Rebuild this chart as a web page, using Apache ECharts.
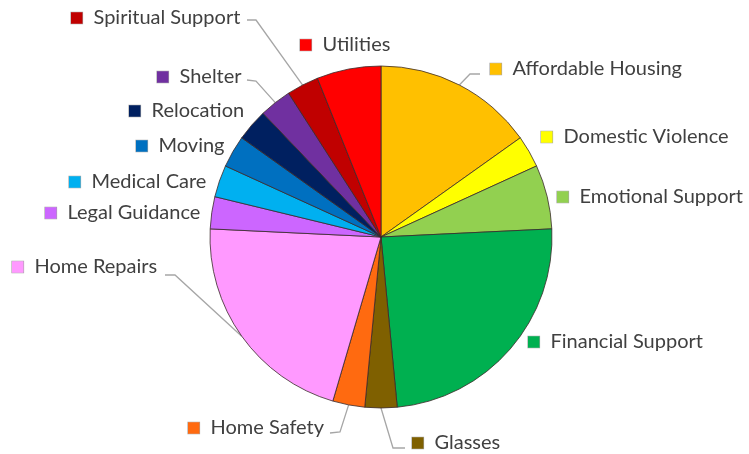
<!DOCTYPE html>
<html>
<head>
<meta charset="utf-8">
<script src="https://cdn.jsdelivr.net/npm/echarts@6/dist/echarts.min.js"></script>
<style>
html,body{margin:0;padding:0;background:#fff;}
#chart{width:749px;height:454px;}
</style>
</head>
<body>
<div id="chart"></div>
<script>
// ---- data ----
const categories = ['Affordable Housing','Domestic Violence','Emotional Support','Financial Support','Glasses','Home Safety','Home Repairs','Legal Guidance','Medical Care','Moving','Relocation','Shelter','Spiritual Support','Utilities'];
const values = [5,1,2,8,1,1,7,1,1,1,1,1,1,2];

// ---- styles ----
const colors = ['#FFC000','#FFFF00','#92D050','#00B050','#7F6000','#FF6A10','#FF99FF','#CC66FF','#00B0F0','#0070C0','#002060','#7030A0','#C00000','#FF0000'];

// label layout: marker left x, centre y; optional leader line knee & end
const labelLayoutCfg = [
  {x:490, y:69, knee:[470,74], end:[480,74]},
  {x:541, y:137},
  {x:557, y:197},
  {x:528, y:342},
  {x:412, y:443, knee:[393,448], end:[405,448]},
  {x:188, y:428, knee:[340,432], end:[330,433]},
  {x:12,  y:267, knee:[175,275], end:[165,275]},
  {x:45,  y:213},
  {x:69,  y:182},
  {x:136, y:146},
  {x:129, y:111},
  {x:157, y:77, knee:[256,81], end:[247,80]},
  {x:71,  y:18, knee:[256,20], end:[247,20]},
  {x:300, y:45}
];

const rich = { t: { fontFamily: 'Lato', fontSize: 20, color: '#404040', padding: [0,0,0,11] } };
colors.forEach((c, i) => {
  rich['m' + i] = { width: 11.5, height: 11.5, backgroundColor: c, borderColor: 'rgba(0,0,0,0.35)', borderWidth: 0.6 };
});

const data = categories.map((name, i) => ({
  name: name,
  value: values[i],
  itemStyle: { color: colors[i] },
  labelLine: { show: !!labelLayoutCfg[i].knee }
}));

const chart = echarts.init(document.getElementById('chart'), null, { renderer: 'canvas' });
chart.setOption({
  animation: false,
  backgroundColor: '#ffffff',
  series: [{
    type: 'pie',
    center: [381, 237],
    radius: 171,
    startAngle: 90,
    clockwise: true,
    avoidLabelOverlap: false,
    itemStyle: { borderColor: '#3a2a2a', borderWidth: 0.8 },
    label: {
      show: true,
      position: 'outside',
      formatter: p => '{m' + p.dataIndex + '|}{t|' + p.name + '}',
      rich: rich
    },
    labelLine: {
      show: true,
      length: 10,
      length2: 10,
      smooth: false,
      lineStyle: { color: '#A6A6A6', width: 1.3 }
    },
    labelLayout: function (params) {
      const cfg = labelLayoutCfg[params.dataIndex];
      const out = { x: cfg.x, y: cfg.y, align: 'left', verticalAlign: 'middle', hideOverlap: false, moveOverlap: false };
      if (cfg.knee && params.labelLinePoints) {
        const s = params.labelLinePoints[0];
        out.labelLinePoints = [s, cfg.knee, cfg.end];
      }
      return out;
    },
    emphasis: { disabled: true },
    data: data
  }]
});
</script>
</body>
</html>
